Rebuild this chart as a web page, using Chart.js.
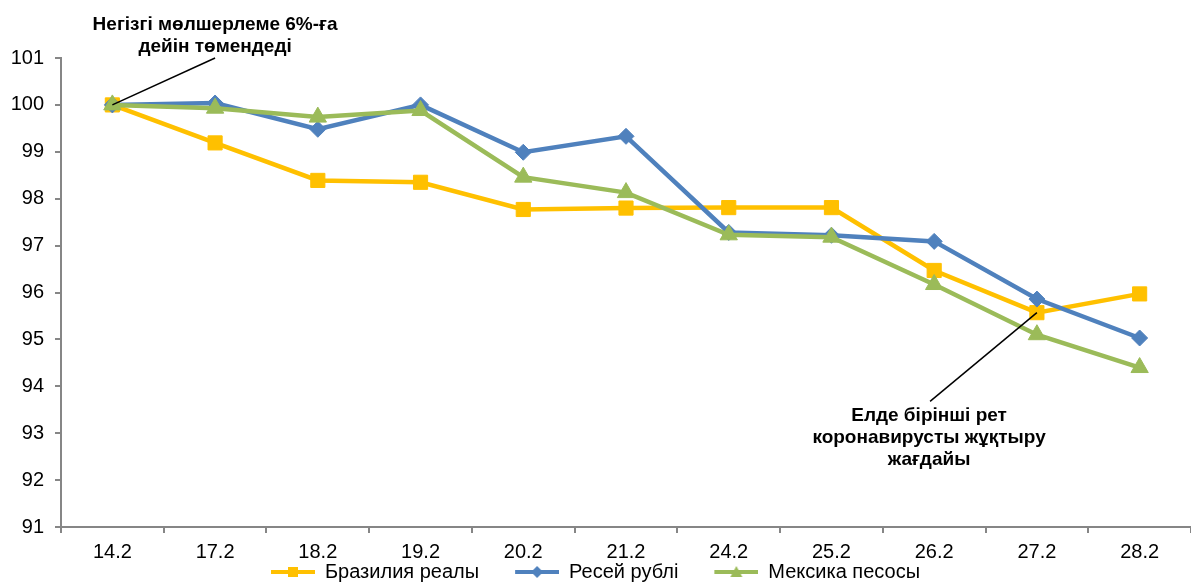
<!DOCTYPE html>
<html>
<head>
<meta charset="utf-8">
<script src="https://cdn.jsdelivr.net/npm/chart.js@4"></script>
<style>
  html, body { margin: 0; padding: 0; background: #fff; }
  #wrap { width: 1191px; height: 583px; position: relative; }
</style>
</head>
<body>
<div id="wrap"><canvas id="rateChart"></canvas></div>
<script>
// Dates (Feb 2020) and index values, 14.2 = 100
const days = ['14.2', '17.2', '18.2', '19.2', '20.2', '21.2', '24.2', '25.2', '26.2', '27.2', '28.2'];
const brazilReal = [100, 99.19, 98.39, 98.35, 97.77, 97.8, 97.81, 97.81, 96.47, 95.57, 95.97];
const russiaRuble = [100, 100.04, 99.48, 100.0, 98.99, 99.33, 97.28, 97.22, 97.09, 95.86, 95.03];
const mexicoPeso = [100, 99.93, 99.74, 99.88, 98.46, 98.13, 97.23, 97.18, 96.17, 95.1, 94.4];
const seriesNames = ['Бразилия реалы', 'Ресей рублі', 'Мексика песосы'];
const yTicks = [91, 92, 93, 94, 95, 96, 97, 98, 99, 100, 101];

const noteRate = ['Негізгі мөлшерлеме 6%-ға', 'дейін төмендеді'];
const noteVirus = ['Елде бірінші рет', 'коронавирусты жұқтыру', 'жағдайы'];

const FONT = '"Liberation Sans", Arial, sans-serif';
const AXIS_GREY = '#868686';
const ICON_LEAD = 36;   // empty space before each legend line = gap between items

// small line+marker icon for the legend, like the Excel one
function legendIcon(color, shape) {
    const c = document.createElement('canvas');
    c.width = ICON_LEAD + 44;
    c.height = 14;
    const ctx = c.getContext('2d');
    ctx.strokeStyle = color;
    ctx.fillStyle = color;
    ctx.lineWidth = 4;
    ctx.beginPath();
    ctx.moveTo(ICON_LEAD, 7);
    ctx.lineTo(ICON_LEAD + 44, 7);
    ctx.stroke();
    const cx = ICON_LEAD + 22, cy = 7;
    ctx.beginPath();
    if (shape === 'rect') {
        ctx.rect(cx - 5, cy - 5, 10, 10);
    } else if (shape === 'rectRot') {
        ctx.moveTo(cx, cy - 6); ctx.lineTo(cx + 6, cy); ctx.lineTo(cx, cy + 6); ctx.lineTo(cx - 6, cy);
    } else {
        ctx.moveTo(cx, cy - 6); ctx.lineTo(cx + 6, cy + 5); ctx.lineTo(cx - 6, cy + 5);
    }
    ctx.closePath();
    ctx.fill();
    return c;
}

function makeSeries(label, data, color, shape, radius, order) {
    return {
        label: label,
        data: data,
        borderColor: color,
        backgroundColor: color,
        borderWidth: 4.5,
        pointStyle: shape,
        pointRadius: radius,
        pointHoverRadius: radius,
        pointBorderWidth: 1,
        pointBorderColor: color,
        pointBackgroundColor: color,
        tension: 0,
        order: order,
        icon: legendIcon(color, shape)
    };
}

// callout texts with pointer lines, positioned in data units
const callouts = {
    id: 'callouts',
    afterLayout(chart) {
        // the first icon's leading gap is blank; recentre the visible legend
        if (chart.legend) {
            chart.legend.left -= ICON_LEAD / 2;
            chart.legend.right -= ICON_LEAD / 2;
        }
    },
    afterDraw(chart) {
        const ctx = chart.ctx;
        const xs = chart.scales.x, ys = chart.scales.y;
        const notes = [
            { lines: noteRate, cx: 1, cy: [101.71, 101.25], from: [0, brazilReal[0]], to: [1, 101] },
            { lines: noteVirus, cx: 7.95, cy: [93.38, 92.9, 92.43], from: [9, brazilReal[9]], to: [7.96, 93.68] }
        ];
        ctx.save();
        notes.forEach(n => {
            ctx.strokeStyle = '#000';
            ctx.lineWidth = 1.5;
            ctx.beginPath();
            ctx.moveTo(xs.getPixelForValue(n.from[0]), ys.getPixelForValue(n.from[1]));
            ctx.lineTo(xs.getPixelForValue(n.to[0]), ys.getPixelForValue(n.to[1]));
            ctx.stroke();
            ctx.fillStyle = '#000';
            ctx.font = 'bold 19px ' + FONT;
            ctx.textAlign = 'center';
            ctx.textBaseline = 'middle';
            n.lines.forEach((t, i) => {
                ctx.fillText(t, xs.getPixelForValue(n.cx), ys.getPixelForValue(n.cy[i]));
            });
        });
        ctx.restore();
    }
};

new Chart(document.getElementById('rateChart'), {
    type: 'line',
    data: {
        labels: days,
        datasets: [
            makeSeries(seriesNames[0], brazilReal, '#FFC000', 'rect', 10, 3),
            makeSeries(seriesNames[1], russiaRuble, '#4F81BD', 'rectRot', 8, 2),
            makeSeries(seriesNames[2], mexicoPeso, '#9BBB59', 'triangle', 10, 1)
        ]
    },
    options: {
        responsive: true,
        maintainAspectRatio: false,
        animation: false,
        layout: { autoPadding: false, padding: { top: 58, right: 0, left: 0, bottom: -9 } },
        plugins: {
            tooltip: { enabled: false },
            legend: {
                position: 'bottom',
                labels: {
                    usePointStyle: true,
                    pointStyleWidth: ICON_LEAD + 44,
                    boxHeight: 14,
                    padding: 0,
                    color: '#000',
                    font: { size: 20, family: FONT },
                    generateLabels(chart) {
                        return chart.data.datasets.map((ds, i) => ({
                            text: ds.label,
                            pointStyle: ds.icon,
                            fillStyle: ds.borderColor,
                            strokeStyle: ds.borderColor,
                            lineWidth: 0,
                            fontColor: '#000',
                            hidden: !chart.isDatasetVisible(i),
                            datasetIndex: i
                        }));
                    }
                }
            }
        },
        scales: {
            x: {
                offset: true,
                afterFit(scale) {
                    scale.height = 35;
                    scale.paddingLeft = 0;
                    scale.paddingRight = 0;
                },
                grid: {
                    offset: true,
                    drawOnChartArea: false,
                    drawTicks: true,
                    tickLength: 6,
                    color: AXIS_GREY,
                    lineWidth: 2
                },
                border: { color: AXIS_GREY, width: 2 },
                ticks: {
                    color: '#000',
                    padding: 9,
                    maxRotation: 0,
                    font: { size: 20, family: FONT, lineHeight: 1 }
                }
            },
            y: {
                min: yTicks[0],
                max: yTicks[yTicks.length - 1],
                afterBuildTicks(scale) {
                    scale.ticks = yTicks.map(v => ({ value: v }));
                },
                afterFit(scale) { scale.width = 61; },
                grid: {
                    drawOnChartArea: false,
                    tickLength: 6,
                    color: AXIS_GREY,
                    lineWidth: 2
                },
                border: { color: AXIS_GREY, width: 2 },
                ticks: {
                    color: '#000',
                    padding: 11,
                    font: { size: 20, family: FONT }
                }
            }
        }
    },
    plugins: [callouts]
});
</script>
</body>
</html>
